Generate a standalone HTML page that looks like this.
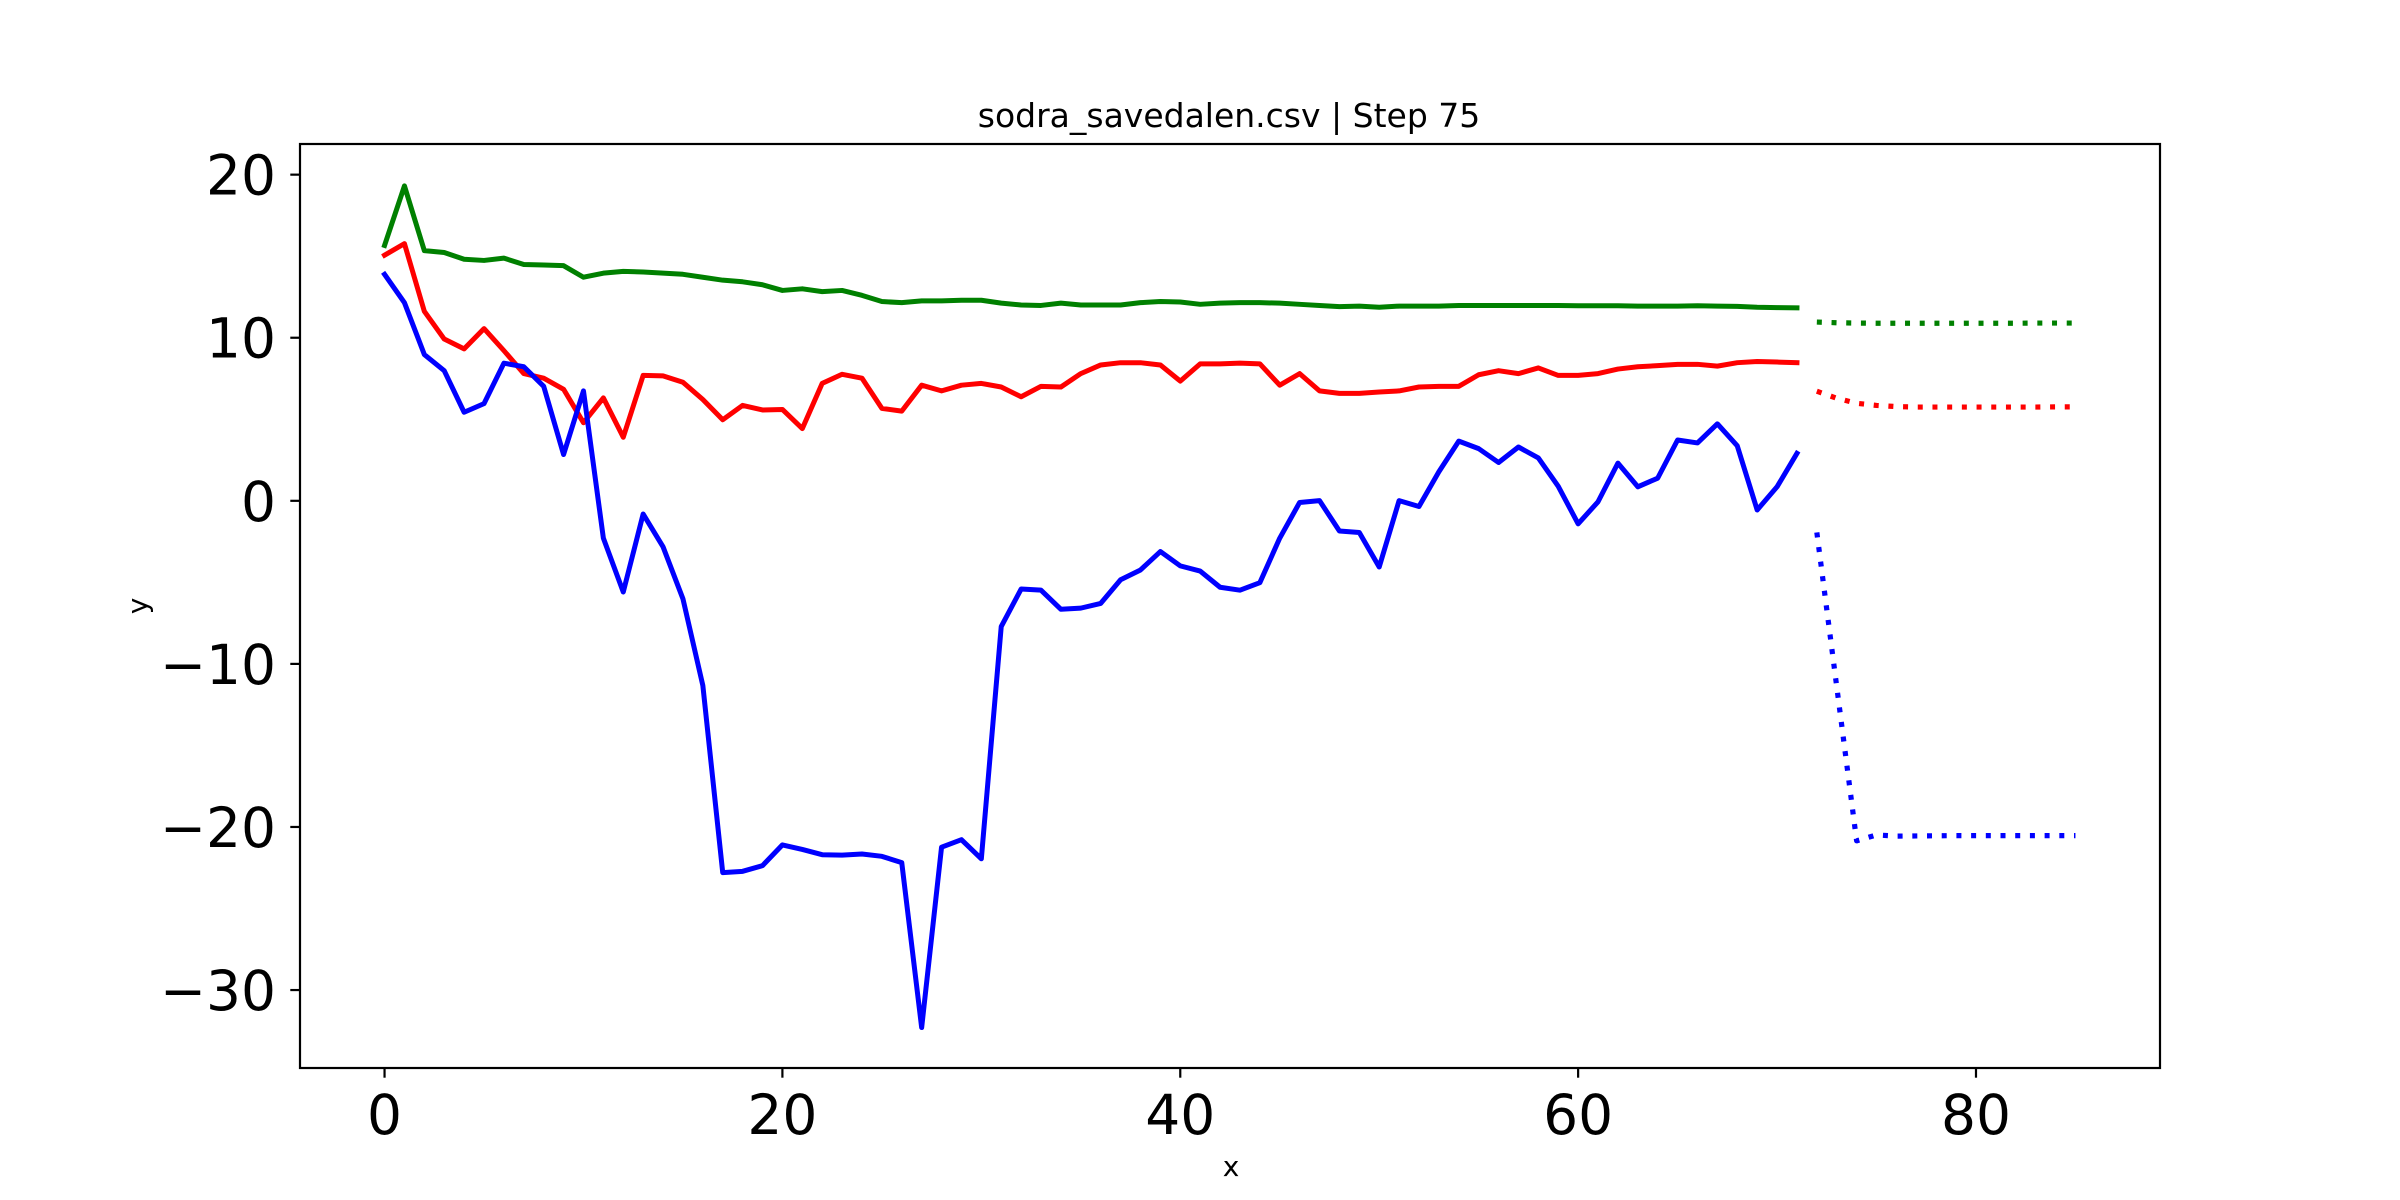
<!DOCTYPE html>
<html><head><meta charset="utf-8"><style>
html,body{margin:0;padding:0;background:#fff;}
svg{display:block;font-family:"DejaVu Sans","Liberation Sans",sans-serif;}
</style></head><body>
<svg id="chart" width="2400" height="1200" viewBox="0 0 2400 1200" xmlns="http://www.w3.org/2000/svg">
<rect width="2400" height="1200" fill="#fff"/>
<text x="1229" y="127" font-size="33" text-anchor="middle">sodra_savedalen.csv | Step 75</text>
<text x="1231" y="1176" font-size="28" text-anchor="middle">x</text>
<text transform="translate(147,606) rotate(-90)" font-size="28" text-anchor="middle">y</text>
<g id="series"></g>
<g id="axes"></g>
</svg>
<script>
const xTicks = [0, 20, 40, 60, 80];
const yTicks = [-30, -20, -10, 0, 10, 20];
const yTickLabels = ["\u221230", "\u221220", "\u221210", "0", "10", "20"];
const blueHist = [13.89,12.15,8.97,7.98,5.43,5.96,8.44,8.22,7.02,2.84,6.74,-2.29,-5.59,-0.81,-2.82,-6.01,-11.32,-22.8,-22.72,-22.37,-21.10,-21.38,-21.70,-21.73,-21.66,-21.80,-22.19,-32.3,-21.24,-20.78,-21.95,-7.71,-5.41,-5.48,-6.65,-6.58,-6.29,-4.84,-4.24,-3.11,-3.99,-4.31,-5.30,-5.48,-5.02,-2.29,-0.10,0.01,-1.85,-1.94,-4.06,0.01,-0.35,1.78,3.66,3.20,2.35,3.30,2.63,0.89,-1.41,-0.06,2.31,0.86,1.39,3.73,3.55,4.72,3.37,-0.56,0.86,2.91];
const redHist = [15.06,15.77,11.62,9.92,9.32,10.56,9.21,7.80,7.52,6.84,4.79,6.31,3.90,7.69,7.66,7.27,6.21,4.97,5.85,5.57,5.60,4.43,7.20,7.76,7.52,5.67,5.50,7.09,6.74,7.09,7.20,6.98,6.38,7.02,6.98,7.80,8.33,8.47,8.47,8.33,7.34,8.40,8.40,8.44,8.40,7.09,7.80,6.74,6.59,6.59,6.67,6.74,6.98,7.02,7.02,7.73,7.98,7.80,8.15,7.69,7.69,7.80,8.08,8.22,8.29,8.37,8.37,8.26,8.47,8.54,8.51,8.47];
const greenHist = [15.66,19.31,15.34,15.23,14.81,14.74,14.88,14.49,14.46,14.42,13.71,13.96,14.07,14.03,13.96,13.89,13.71,13.53,13.43,13.25,12.90,13.00,12.83,12.90,12.6,12.22,12.15,12.26,12.26,12.30,12.30,12.12,12.01,11.98,12.12,12.01,12.01,12.01,12.15,12.22,12.19,12.05,12.12,12.15,12.15,12.12,12.05,11.98,11.91,11.94,11.87,11.94,11.94,11.94,11.98,11.98,11.98,11.98,11.98,11.98,11.96,11.96,11.96,11.94,11.94,11.94,11.96,11.94,11.92,11.87,11.85,11.83];
const blueFcst = [-1.94,-11.4,-20.85,-20.49,-20.56,-20.55,-20.54,-20.53,-20.53,-20.53,-20.53,-20.53,-20.53,-20.53];
const redFcst = [6.72,6.29,5.98,5.85,5.78,5.75,5.75,5.75,5.75,5.75,5.75,5.75,5.76,5.76];
const greenFcst = [10.96,10.92,10.90,10.89,10.89,10.89,10.89,10.89,10.89,10.89,10.89,10.90,10.90,10.90];
const histStart = 0;
const fcstStart = 72;

const L=300,R=2160,T=144,B=1068;
const xMin=-4.25,xMax=89.25,yMin=-34.78,yMax=21.88;
const NS="http://www.w3.org/2000/svg";
function sx(v){return L+(v-xMin)/(xMax-xMin)*(R-L);}
function sy(v){return T+(yMax-v)/(yMax-yMin)*(B-T);}
function mk(tag,attrs,parent){const e=document.createElementNS(NS,tag);for(const k in attrs)e.setAttribute(k,attrs[k]);parent.appendChild(e);return e;}
const series=document.getElementById('series');
const axes=document.getElementById('axes');
function drawLine(vals,start,color,dashed,name){
  const pts=vals.map((v,i)=>sx(start+i).toFixed(2)+','+sy(v).toFixed(2)).join(' ');
  const attrs={points:pts,fill:'none',stroke:color,'stroke-width':dashed?5.2:5,'stroke-linejoin':'round'};
  if(dashed){attrs['stroke-dasharray']='5,9.7';}else{attrs['stroke-linecap']='square';}
  const p=mk('polyline',attrs,series);
  
  
}
drawLine(greenHist,histStart,'#008000',false,'green-history-line');
drawLine(redHist,histStart,'#ff0000',false,'red-history-line');
drawLine(blueHist,histStart,'#0000ff',false,'blue-history-line');
drawLine(greenFcst,fcstStart,'#008000',true,'green-forecast-line');
drawLine(redFcst,fcstStart,'#ff0000',true,'red-forecast-line');
drawLine(blueFcst,fcstStart,'#0000ff',true,'blue-forecast-line');
const frame=mk('rect',{x:L,y:T,width:R-L,height:B-T,fill:'none',stroke:'#000','stroke-width':2.2},axes);


xTicks.forEach(v=>{
  const x=sx(v);
  const t=mk('line',{x1:x,x2:x,y1:B,y2:B+9.7,stroke:'#000','stroke-width':2.2},axes);
  
  
  const lb=mk('text',{x:x,y:B+66,'font-size':55,'text-anchor':'middle'},axes);
  lb.textContent=String(v);
  
  
});
yTicks.forEach((v,i)=>{
  const y=sy(v);
  const t=mk('line',{x1:L-9.7,x2:L,y1:y,y2:y,stroke:'#000','stroke-width':2.2},axes);
  
  
  const lb=mk('text',{x:L-24,y:y+20,'font-size':55,'text-anchor':'end'},axes);
  lb.textContent=yTickLabels[i];
  
  
});
</script>
</body></html>
